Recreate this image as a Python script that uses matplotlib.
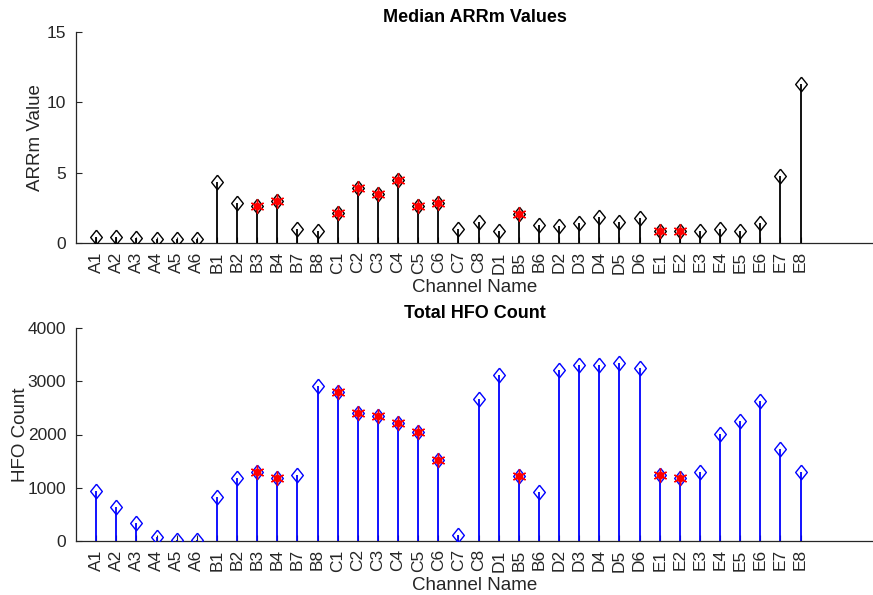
import matplotlib
matplotlib.use("Agg")
import matplotlib.pyplot as plt
import numpy as np

plt.rcParams['font.family'] = ['Liberation Sans', 'DejaVu Sans']

channels = ["A1", "A2", "A3", "A4", "A5", "A6", "B1", "B2", "B3", "B4", "B7", "B8",
            "C1", "C2", "C3", "C4", "C5", "C6", "C7", "C8", "D1", "B5", "B6", "D2",
            "D3", "D4", "D5", "D6", "E1", "E2", "E3", "E4", "E5", "E6", "E7", "E8"]

arrm_median = [0.45, 0.45, 0.38, 0.30, 0.30, 0.30, 4.36, 2.82, 2.60, 2.98, 1.00, 0.88,
               2.12, 3.88, 3.50, 4.48, 2.63, 2.82, 1.00, 1.51, 0.88, 2.04, 1.28, 1.21,
               1.44, 1.87, 1.51, 1.80, 0.88, 0.88, 0.88, 0.99, 0.88, 1.44, 4.78, 11.28]

hfo_count = [936, 634, 333, 81, 13, 10, 828, 1180, 1287, 1174, 1243, 2919,
             2793, 2398, 2354, 2216, 2053, 1520, 107, 2668, 3126, 1224, 923, 3202,
             3296, 3296, 3339, 3245, 1243, 1192, 1287, 2009, 2247, 2637, 1727, 1287]

# channels flagged with a red asterisk
flagged = ["B3", "B4", "C1", "C2", "C3", "C4", "C5", "C6", "B5", "E1", "E2"]

text_col = (0.15, 0.15, 0.15)
x = np.arange(1, len(channels) + 1)
flag_idx = [channels.index(c) for c in flagged]

# diamond a bit taller than wide
diamond = [(0, 1), (0.8, 0), (0, -1), (-0.8, 0), (0, 1)]

fig = plt.figure(figsize=(8.73, 5.95), dpi=100)
left = 76 / 873
width = 1.0 - left
ax1 = fig.add_axes([left, 1 - 243 / 595, width, (243 - 32) / 595])
ax2 = fig.add_axes([left, 1 - 541 / 595, width, (541 - 328) / 595])


def draw_panel(ax, vals, color, ylim, yticks, ylabel, title, ylabel_x):
    vals = np.asarray(vals, dtype=float)
    ax.vlines(x, 0, vals, color=color, lw=1.3, zorder=2)
    ax.plot(x, vals, linestyle='none', marker=diamond, markersize=10.5,
            markerfacecolor='none', markeredgecolor=color, markeredgewidth=1.0, zorder=3)
    fx = x[flag_idx]
    fv = vals[flag_idx]
    ax.plot(fx, fv, linestyle='none', marker=(6, 2, 0), markersize=10,
            color='red', markeredgewidth=1.0, zorder=4)
    ax.plot(fx, fv, linestyle='none', marker='o', markersize=4.5,
            color='red', zorder=5)
    ax.set_xlim(0, 39.6)
    ax.set_ylim(*ylim)
    ax.set_yticks(yticks)
    ax.set_xticks(x)
    ax.set_xticklabels(channels, rotation=90)
    for s in ['top', 'right']:
        ax.spines[s].set_visible(False)
    for s in ['left', 'bottom']:
        ax.spines[s].set_color(text_col)
        ax.spines[s].set_linewidth(0.9)
    ax.tick_params(axis='both', direction='in', length=4, width=0.8,
                   colors=text_col, labelsize=12.5)
    ax.tick_params(axis='x', pad=6)
    ax.tick_params(axis='y', pad=7)
    ax.set_xlabel('Channel Name', fontsize=13.5, color=text_col, labelpad=4)
    ax.set_ylabel(ylabel, fontsize=13.5, color=text_col)
    ax.yaxis.set_label_coords(ylabel_x, 0.5)
    ax.set_title(title, fontsize=13, fontweight='bold', color='black', pad=7)


draw_panel(ax1, arrm_median, 'black', (0, 15), [0, 5, 10, 15],
           'ARRm Value', 'Median ARRm Values', -0.040)
draw_panel(ax2, hfo_count, 'blue', (0, 4000), [0, 1000, 2000, 3000, 4000],
           'HFO Count', 'Total HFO Count', -0.059)

fig.savefig('out.png', dpi=100)
